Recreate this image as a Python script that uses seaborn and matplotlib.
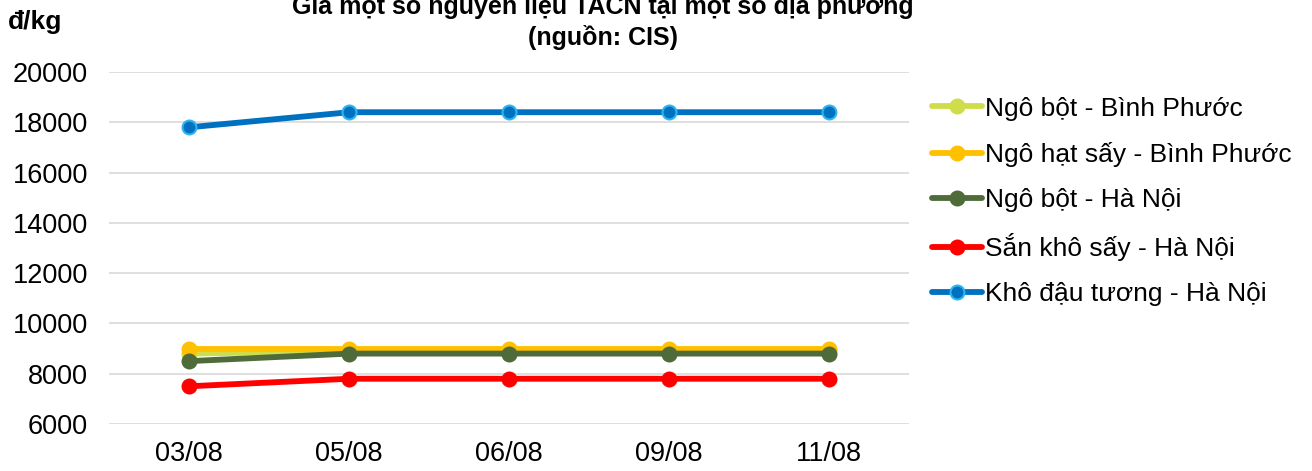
import numpy as np
import pandas as pd
import matplotlib
matplotlib.use('Agg')
import matplotlib.pyplot as plt
import seaborn as sns

dates = ['03/08', '05/08', '06/08', '09/08', '11/08']
ngo_bot_bp = [8800, 8900, 8900, 8900, 8900]
ngo_hat_bp = [9000, 9000, 9000, 9000, 9000]
ngo_bot_hn = [8500, 8800, 8800, 8800, 8800]
san_kho_hn = [7500, 7800, 7800, 7800, 7800]
kho_dau_hn = [17800, 18400, 18400, 18400, 18400]

series_names = ['Ngô bột - Bình Phước', 'Ngô hạt sấy - Bình Phước', 'Ngô bột - Hà Nội',
                'Sắn khô sấy - Hà Nội', 'Khô đậu tương - Hà Nội']
colors = ['#D0DD4A', '#FFC000', '#4F6B3A', '#FF0000', '#0070C0']
edge_colors = ['#D0DD4A', '#FFC000', '#4F6B3A', '#FF0000', '#2CB5F0']

rows = []
for name, vals in zip(series_names, [ngo_bot_bp, ngo_hat_bp, ngo_bot_hn, san_kho_hn, kho_dau_hn]):
    for d, v in zip(dates, vals):
        rows.append({'date': d, 'price': v, 'series': name})
df = pd.DataFrame(rows)

sns.set_style('white')
plt.rcParams['font.family'] = ['Liberation Sans', 'DejaVu Sans']
plt.rcParams['text.color'] = 'black'
plt.rcParams['xtick.color'] = 'black'
plt.rcParams['ytick.color'] = 'black'

fig = plt.figure(figsize=(13.12, 4.71), dpi=100)
ax = fig.add_axes([109 / 1312, 47 / 471, 800 / 1312, 352 / 471])

for name, c, ec in zip(series_names, colors, edge_colors):
    sub = df[df['series'] == name]
    sns.lineplot(data=sub, x='date', y='price', ax=ax, color=c, lw=4.2, marker='o',
                 markersize=10, markerfacecolor=c, markeredgecolor=ec, markeredgewidth=1.5,
                 label=name, sort=False)

ax.set_ylim(6000, 20000)
ax.set_xlim(-0.5, 4.5)
ax.set_yticks(np.arange(6000, 20001, 2000))
ax.yaxis.grid(True, color='#d9d9d9', lw=1.2)
ax.xaxis.grid(False)
for s in ax.spines.values():
    s.set_visible(False)
ax.tick_params(axis='both', labelsize=19.5, length=0)
ax.tick_params(axis='y', pad=15)
ax.tick_params(axis='x', pad=12)
ax.set_xlabel('')
ax.set_ylabel('')

leg = ax.legend(loc='upper left', bbox_to_anchor=(1.016, 0.96), frameon=False, fontsize=19,
                handlelength=1.9, handletextpad=0.1, labelspacing=0.8, borderaxespad=0)

fig.text(603 / 1312, 1.0 - 6 / 471, 'Giá một số nguyên liệu TACN tại một số địa phương',
         ha='center', va='center', fontsize=18, fontweight='bold')
fig.text(603 / 1312, 1.0 - 37 / 471, '(nguồn: CIS)',
         ha='center', va='center', fontsize=18, fontweight='bold')
fig.text(8 / 1312, 1.0 - 22 / 471, 'đ/kg', ha='left', va='center', fontsize=19, fontweight='bold')

fig.savefig('out.png', dpi=100)
